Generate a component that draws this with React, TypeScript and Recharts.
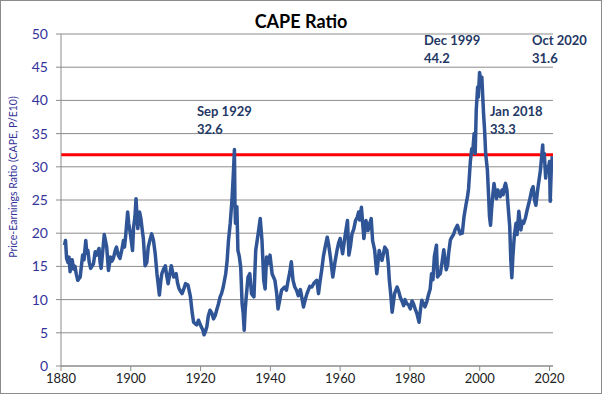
import React from 'react';
import { LineChart, Line, XAxis, YAxis, CartesianGrid, ReferenceLine, Customized } from 'recharts';

// CAPE (P/E10) readings, [decimal year, ratio]
const cape1881to1919: [number, number][] = [
  [1881.0, 18.2], [1881.3, 18.9], [1881.6, 16.2], [1882.0, 15.6], [1882.3, 16.4], [1882.6, 14.2],
  [1883.2, 16.0], [1883.6, 14.6], [1884.0, 15.0], [1884.4, 13.8], [1884.8, 12.9], [1885.5, 13.4],
  [1886.2, 16.7], [1886.6, 16.0], [1887.1, 18.9], [1887.4, 17.0], [1887.7, 17.4], [1888.1, 15.6],
  [1888.5, 14.7], [1889.3, 15.4], [1889.8, 17.2], [1890.2, 16.7], [1890.9, 17.7], [1891.2, 15.6],
  [1891.5, 14.7], [1892.0, 17.5], [1892.4, 19.8], [1893.1, 17.9], [1893.6, 14.4], [1894.2, 16.4],
  [1894.6, 15.8], [1895.0, 16.2], [1895.5, 17.3], [1895.9, 17.9], [1896.4, 16.7], [1896.9, 16.2],
  [1897.4, 17.4], [1897.9, 18.9], [1898.2, 17.9], [1898.5, 19.4], [1899.1, 23.2], [1899.4, 21.5],
  [1899.8, 20.2], [1900.5, 17.4], [1900.8, 20.9], [1901.2, 22.5], [1901.5, 25.2], [1902.0, 20.7],
  [1902.5, 23.2], [1902.9, 22.2], [1903.3, 20.4], [1903.6, 19.2], [1904.1, 15.1], [1904.6, 15.6],
  [1905.0, 17.9], [1905.5, 19.0], [1906.0, 19.9], [1906.5, 18.9], [1907.0, 16.9], [1907.5, 13.9],
  [1908.2, 10.7], [1908.6, 12.8], [1908.9, 13.9], [1909.4, 14.6], [1909.9, 15.1], [1910.3, 13.6],
  [1910.7, 12.4], [1911.2, 13.9], [1911.6, 15.1], [1912.3, 13.4], [1913.0, 13.9], [1913.4, 12.5],
  [1913.8, 11.7], [1914.2, 11.3], [1914.7, 10.9], [1915.2, 11.6], [1915.7, 12.4], [1916.4, 12.2],
  [1917.1, 10.4], [1917.6, 8.0], [1918.0, 6.6], [1918.4, 6.4], [1918.9, 6.2], [1919.4, 6.9],
];

const cape1920to1959: [number, number][] = [
  [1920.2, 5.9], [1920.6, 5.5], [1921.0, 4.7], [1921.4, 5.2], [1921.8, 5.9], [1922.2, 7.5],
  [1922.7, 8.4], [1923.2, 8.0], [1923.7, 7.1], [1924.2, 7.6], [1924.6, 8.4], [1925.1, 9.3],
  [1925.6, 10.4], [1926.0, 10.9], [1926.5, 11.9], [1927.2, 13.9], [1927.6, 15.8], [1928.0, 18.9],
  [1928.5, 21.5], [1929.0, 25.0], [1929.4, 29.0], [1929.7, 32.6], [1929.85, 24.5], [1930.0, 21.5],
  [1930.4, 24.0], [1930.7, 17.4], [1931.1, 16.5], [1931.5, 14.9], [1931.9, 9.4], [1932.2, 8.0],
  [1932.5, 5.4], [1932.8, 8.6], [1933.0, 9.9], [1933.6, 13.4], [1934.1, 13.9], [1934.6, 10.9],
  [1935.3, 10.4], [1935.8, 17.4], [1936.5, 19.9], [1937.1, 22.2], [1937.6, 18.9], [1938.1, 12.9],
  [1938.5, 11.6], [1938.9, 16.4], [1939.4, 15.4], [1939.9, 16.7], [1940.5, 13.9], [1941.3, 12.9],
  [1941.8, 11.0], [1942.2, 8.6], [1942.7, 10.0], [1943.2, 11.4], [1944.1, 11.9], [1944.6, 11.4],
  [1945.1, 12.9], [1945.6, 14.2], [1946.0, 15.7], [1946.5, 12.9], [1947.0, 11.9], [1947.5, 11.4],
  [1948.0, 10.6], [1948.6, 11.5], [1949.5, 8.9], [1950.0, 10.0], [1950.5, 10.9], [1951.3, 12.0],
  [1951.9, 11.9], [1952.5, 12.5], [1953.3, 12.9], [1953.8, 10.9], [1954.2, 12.6], [1954.7, 14.4],
  [1955.2, 16.5], [1955.7, 17.9], [1956.3, 19.4], [1956.7, 18.3], [1957.2, 16.4], [1957.9, 13.4],
  [1958.5, 15.6], [1959.1, 17.4], [1959.6, 18.6],
];

const cape1960to1999: [number, number][] = [
  [1960.0, 19.2], [1960.7, 16.9], [1961.1, 18.4], [1961.5, 19.9], [1962.1, 21.9], [1962.5, 16.7],
  [1963.0, 18.2], [1963.4, 19.9], [1963.9, 20.6], [1964.4, 21.9], [1964.9, 22.4], [1965.3, 23.2],
  [1965.6, 22.0], [1966.1, 23.9], [1966.8, 19.2], [1967.4, 21.9], [1968.0, 20.4], [1968.5, 21.5],
  [1968.9, 22.2], [1969.3, 18.9], [1969.9, 17.4], [1970.5, 13.9], [1971.2, 17.4], [1971.6, 16.5],
  [1972.0, 15.9], [1972.8, 17.9], [1973.4, 17.4], [1973.8, 15.4], [1974.1, 12.9], [1974.5, 10.8],
  [1974.9, 8.1], [1975.6, 10.9], [1976.3, 11.9], [1976.8, 11.2], [1977.2, 10.4], [1977.7, 9.8],
  [1978.2, 9.1], [1978.6, 10.0], [1979.1, 9.4], [1979.6, 9.2], [1980.1, 8.6], [1980.6, 9.8],
  [1981.0, 9.4], [1981.5, 8.6], [1982.0, 7.9], [1982.6, 6.6], [1983.0, 8.4], [1983.4, 9.9],
  [1983.8, 9.5], [1984.3, 8.9], [1984.8, 9.6], [1985.3, 10.7], [1985.8, 11.6], [1986.2, 13.9],
  [1986.6, 13.0], [1987.0, 16.5], [1987.6, 18.2], [1987.9, 13.4], [1988.3, 13.7], [1988.7, 13.9],
  [1989.2, 15.6], [1989.7, 17.5], [1990.4, 14.5], [1990.8, 15.2], [1991.1, 17.0], [1991.6, 19.0],
  [1992.0, 19.4], [1992.5, 19.8], [1993.0, 20.6], [1993.6, 21.2], [1994.4, 19.9], [1995.0, 20.0],
  [1995.5, 22.5], [1996.1, 24.4], [1996.5, 25.5], [1996.8, 26.7], [1997.3, 30.7], [1997.7, 32.7],
  [1998.0, 32.3], [1998.4, 35.0], [1998.7, 32.0], [1999.0, 38.5], [1999.4, 42.0], [1999.6, 40.5],
  [1999.95, 44.2],
];

const cape2000to2020: [number, number][] = [
  [2000.3, 43.0], [2000.6, 43.5], [2001.1, 38.0], [2001.4, 35.5], [2001.7, 32.0], [2002.2, 29.5],
  [2002.6, 25.0], [2002.8, 22.5], [2003.1, 21.2], [2003.4, 23.6], [2003.7, 25.5], [2004.1, 27.5],
  [2004.5, 26.0], [2004.8, 25.2], [2005.2, 26.5], [2005.9, 25.5], [2006.4, 26.5], [2006.7, 25.8],
  [2007.1, 27.0], [2007.4, 27.5], [2007.8, 26.5], [2008.0, 25.0], [2008.3, 23.0], [2008.6, 21.0],
  [2008.9, 16.0], [2009.2, 13.3], [2009.5, 16.5], [2009.9, 19.5], [2010.4, 21.5], [2010.7, 19.8],
  [2011.2, 23.3], [2011.8, 20.5], [2012.2, 21.8], [2012.6, 21.5], [2013.1, 22.3], [2013.6, 23.5],
  [2014.3, 25.0], [2014.9, 26.5], [2015.3, 27.0], [2015.7, 25.0], [2016.1, 24.2], [2016.6, 26.5],
  [2017.0, 28.0], [2017.4, 29.5], [2018.05, 33.3], [2018.2, 31.0], [2018.5, 32.0], [2018.9, 28.3],
  [2019.2, 30.0], [2019.6, 29.5], [2020.0, 30.8], [2020.2, 24.8], [2020.5, 29.5], [2020.79, 31.6],
];

const yearTicks = [1880, 1900, 1920, 1940, 1960, 1980, 2000, 2020];
const capeTicks = [0, 5, 10, 15, 20, 25, 30, 35, 40, 45, 50];
const thresholdLine = 31.8;

const peakLabels = [
  { when: 'Sep 1929', value: '32.6' },
  { when: 'Dec 1999', value: '44.2' },
  { when: 'Jan 2018', value: '33.3' },
  { when: 'Oct 2020', value: '31.6' },
];

const data = [...cape1881to1919, ...cape1920to1959, ...cape1960to1999, ...cape2000to2020]
  .map(([t, cape]) => ({ t, cape }));

const FONT = 'Lato, "Open Sans", sans-serif';
const labelSpots = [[197, 116], [424, 45], [490, 116], [532, 45]];

function Overlay(){
  return (
    <g fontFamily={FONT}>
      <text x={301} y={28} textAnchor="middle" fontSize={18} fontWeight={700} fill="#000">CAPE Ratio</text>
      <text x={13} y={177} transform="rotate(-90 13 177)" textAnchor="middle" dominantBaseline="central"
        fontSize={10.5} fill="#333399">Price-Earnings Ratio (CAPE, P/E10)</text>
      {peakLabels.map((p, i) => (
        <g key={p.when} fontSize={13} fontWeight={700} fill="#1F3864">
          <text x={labelSpots[i][0]} y={labelSpots[i][1]}>{p.when}</text>
          <text x={labelSpots[i][0]} y={labelSpots[i][1] + 17.5}>{p.value}</text>
        </g>
      ))}
    </g>
  );
}

export default function App(){
  return (
    <div style={{ position: 'absolute', left: 0, top: 0, width: 602, height: 394, background: '#fff' }}>
      <LineChart width={602} height={394} data={data} margin={{ top: 34, right: 49, bottom: 0, left: 0 }}>
        <CartesianGrid stroke="#8c8c8c" vertical={false} />
        <XAxis dataKey="t" type="number" domain={[1880, 2021]} ticks={yearTicks} allowDataOverflow height={28}
          tick={{ fill: '#222', fontSize: 13, fontFamily: FONT }} tickSize={5} tickMargin={3}
          stroke="#8c8c8c" />
        <YAxis type="number" domain={[0, 50]} ticks={capeTicks} width={61} interval={0}
          tick={{ fill: '#333399', fontSize: 14, fontFamily: FONT }} tickSize={5} tickMargin={8}
          stroke="#8c8c8c" />
        <ReferenceLine y={thresholdLine} stroke="#ff0000" strokeWidth={3} />
        <Line dataKey="cape" type="linear" stroke="#2F5597" strokeWidth={3.5} dot={false}
          isAnimationActive={false} strokeLinejoin="round" />
        <Customized component={Overlay} />
      </LineChart>
      <div style={{ position: 'absolute', inset: 0, border: '1px solid #8c8c8c', pointerEvents: 'none' }} />
    </div>
  );
}
